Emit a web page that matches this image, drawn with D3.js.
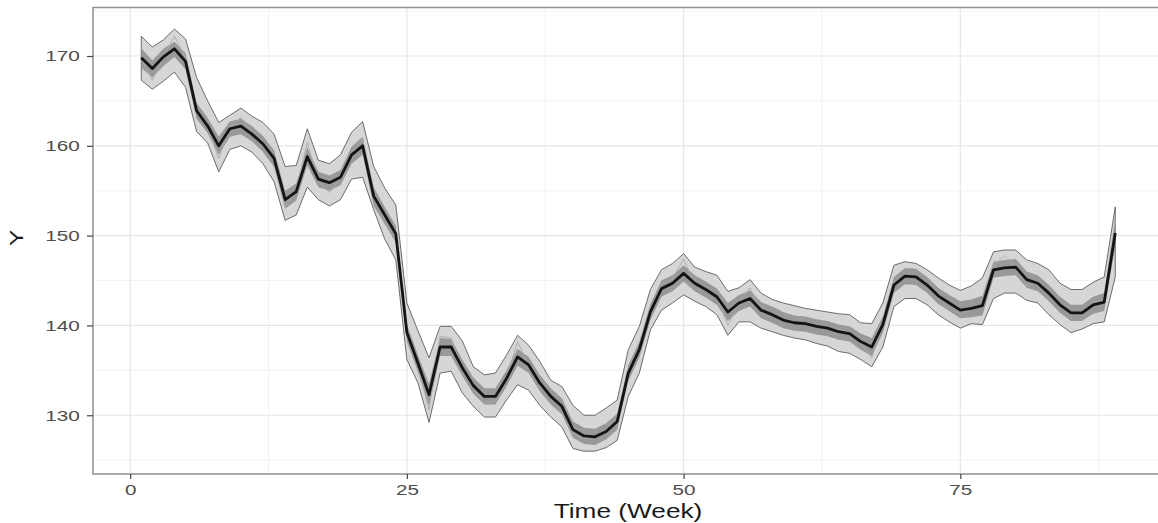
<!DOCTYPE html>
<html><head><meta charset="utf-8">
<script src="https://cdn.jsdelivr.net/npm/d3@7"></script>
<style>body{margin:0;background:#fff} svg{display:block}</style>
</head><body>
<svg id="c" width="1158" height="523"></svg>
<script>
const weeks = d3.range(1, 90);
const median = [169.8,168.6,169.9,170.8,169.4,163.9,162.2,160.0,161.9,162.2,
161.3,160.2,158.6,154.0,154.9,158.8,156.3,155.9,156.5,159.0,
160.0,154.4,152.3,150.2,139.2,135.8,132.3,137.6,137.6,135.3,
133.3,132.1,132.1,134.1,136.5,135.6,133.6,132.1,131.0,128.4,
127.7,127.6,128.2,129.3,134.7,137.3,141.5,144.1,144.7,145.8,
144.7,144.0,143.2,141.5,142.5,143.0,141.7,141.2,140.6,140.3,
140.2,139.9,139.7,139.3,139.1,138.2,137.6,140.1,144.5,145.5,
145.4,144.5,143.3,142.5,141.7,141.9,142.2,146.2,146.4,146.5,
145.1,144.7,143.6,142.3,141.4,141.4,142.3,142.6,150.3];
const outerUpper = [172.2,171.0,171.8,173.0,171.9,167.6,165.0,162.6,163.4,164.2,
163.3,162.6,161.3,157.7,157.8,161.9,158.4,158.0,159.0,161.5,
162.7,157.7,155.3,153.4,142.5,139.4,136.4,139.9,139.9,138.3,
135.4,134.5,134.7,136.7,138.9,137.8,136.0,133.9,133.2,131.1,
130.0,130.0,130.8,131.7,137.3,139.9,144.0,146.2,146.9,148.0,
146.5,146.0,145.6,143.8,144.2,145.1,143.6,142.9,142.5,142.2,
141.9,141.7,141.5,141.3,141.2,140.3,140.2,142.5,146.7,147.1,
146.9,146.2,145.3,144.5,143.9,144.4,145.3,148.2,148.4,148.4,
147.3,146.9,146.2,144.7,144.0,144.0,144.8,145.4,153.2];
const outerLower = [167.3,166.3,167.2,168.2,166.5,161.6,160.3,157.1,159.6,160.0,
159.3,158.0,156.0,151.7,152.3,155.4,154.0,153.3,154.0,156.3,
156.5,152.9,149.6,147.3,136.2,133.6,129.2,134.7,134.9,132.5,
131.0,129.8,129.8,131.7,133.4,132.8,131.1,129.8,128.7,126.3,
126.0,126.0,126.4,127.2,132.1,134.7,139.5,141.7,142.5,143.4,
142.7,142.1,141.2,138.9,140.4,140.4,139.7,139.3,138.9,138.6,
138.4,138.0,137.7,137.1,136.9,136.2,135.4,137.6,142.1,143.0,
143.0,142.3,141.2,140.4,139.7,140.2,140.1,143.0,143.6,143.6,
142.8,142.5,141.2,140.1,139.2,139.6,140.2,140.4,145.4];
const innerUpper = [170.9,169.5,170.8,171.6,170.3,164.8,163.1,161.0,162.7,163.0,
162.2,161.1,159.5,155.0,155.8,159.8,157.1,156.7,157.3,159.9,
161.0,155.4,153.2,151.1,140.1,136.7,133.5,138.6,138.5,136.2,
134.2,133.0,133.0,135.0,137.4,136.5,134.5,133.0,131.9,129.3,
128.6,128.5,129.1,130.2,135.6,138.2,142.4,145.0,145.6,146.7,
145.6,144.9,144.1,142.5,143.4,143.9,142.6,142.1,141.5,141.1,
141.0,140.7,140.5,140.1,139.9,139.1,138.6,141.0,145.4,146.4,
146.3,145.4,144.2,143.4,142.7,142.9,143.3,147.1,147.3,147.4,
146.0,145.6,144.5,143.2,142.3,142.3,143.2,143.6,151.8];
const innerLower = [168.7,167.6,168.9,169.9,168.5,163.0,161.4,159.0,161.0,161.3,
160.5,159.3,157.6,153.0,153.9,157.8,155.4,155.0,155.6,158.0,
159.0,153.3,151.3,149.2,138.2,134.8,131.0,136.6,136.6,134.4,
132.4,131.2,131.2,133.2,135.5,134.7,132.7,131.2,130.1,127.5,
126.8,126.7,127.3,128.4,133.8,136.4,140.6,143.2,143.8,144.9,
143.8,143.1,142.3,140.5,141.6,142.1,140.8,140.3,139.7,139.4,
139.3,139.0,138.8,138.4,138.2,137.3,136.6,139.2,143.6,144.6,
144.5,143.6,142.4,141.6,140.8,140.9,141.1,145.3,145.5,145.6,
144.2,143.8,142.7,141.4,140.5,140.5,141.3,141.6,148.8];
const observed = [169.8,167.3,169.8,172.2,169.8,163.8,162.0,158.6,162.0,163.2,
161.4,160.2,158.4,153.2,155.0,160.4,156.0,154.8,156.4,159.2,
160.8,154.2,152.0,150.0,139.0,135.5,130.6,138.8,138.6,135.0,
133.0,131.4,131.6,134.2,138.2,135.5,133.2,132.0,131.2,128.0,
127.4,127.6,128.4,129.0,134.8,137.2,141.2,144.6,145.2,147.4,
144.6,143.8,143.2,140.0,142.6,144.2,141.6,141.2,140.6,140.2,
140.2,139.8,139.6,139.6,139.2,138.0,136.4,140.2,144.8,145.6,
145.4,144.4,143.0,142.6,141.2,142.0,142.2,146.6,147.8,146.6,
144.4,144.8,143.6,142.4,141.2,141.4,142.6,142.8,151.8];
const xTicks = [0, 25, 50, 75];
const yTicks = [130, 140, 150, 160, 170];
const xMinor = [12.5, 37.5, 62.5, 87.5];
const yMinor = [125, 135, 145, 155, 165, 175];
const xTitle = "Time (Week)";
const yTitle = "Y";

const L = 93, R = 1158, T = 7.5, B = 474;
const x = d3.scaleLinear().domain([-3.36, 92.86]).range([L, R]);
const y = d3.scaleLinear().domain([123.46, 175.4]).range([B, T]);
const svg = d3.select('#c');

const grid = svg.append('g');
grid.selectAll('.xm').data(xMinor).join('line')
  .attr('x1', d => x(d)).attr('x2', d => x(d)).attr('y1', T).attr('y2', B)
  .attr('stroke', '#f2f2f2').attr('stroke-width', 1);
grid.selectAll('.ym').data(yMinor).join('line')
  .attr('y1', d => y(d)).attr('y2', d => y(d)).attr('x1', L).attr('x2', R)
  .attr('stroke', '#f2f2f2').attr('stroke-width', 1);
grid.selectAll('.xM').data(xTicks).join('line')
  .attr('x1', d => x(d)).attr('x2', d => x(d)).attr('y1', T).attr('y2', B)
  .attr('stroke', '#e6e6e6').attr('stroke-width', 1.2);
grid.selectAll('.yM').data(yTicks).join('line')
  .attr('y1', d => y(d)).attr('y2', d => y(d)).attr('x1', L).attr('x2', R)
  .attr('stroke', '#e6e6e6').attr('stroke-width', 1.2);

const idx = weeks.map((w, i) => i);
const outerArea = d3.area().x(i => x(weeks[i])).y0(i => y(outerLower[i])).y1(i => y(outerUpper[i]));
const innerArea = d3.area().x(i => x(weeks[i])).y0(i => y(innerLower[i])).y1(i => y(innerUpper[i]));
svg.append('path').datum(idx).attr('d', outerArea)
  .attr('fill', '#d6d6d6').attr('stroke', '#5e5e5e').attr('stroke-width', 0.9);
svg.append('path').datum(idx).attr('d', innerArea)
  .attr('fill', '#8e8e8e').attr('fill-opacity', 0.85);
svg.append('path').datum(idx)
  .attr('d', d3.line().x(i => x(weeks[i])).y(i => y(observed[i])))
  .attr('fill', 'none').attr('stroke', '#aaaaaa').attr('stroke-width', 0.9);
svg.append('path').datum(idx)
  .attr('d', d3.line().x(i => x(weeks[i])).y(i => y(median[i])))
  .attr('fill', 'none').attr('stroke', '#141414').attr('stroke-width', 2.8)
  .attr('stroke-linejoin', 'round');

svg.append('rect').attr('x', L).attr('y', T).attr('width', R - L + 5).attr('height', B - T)
  .attr('fill', 'none').attr('stroke', '#8f8f8f').attr('stroke-width', 1.5);

const font = "'Liberation Sans', Arial, Helvetica, sans-serif";
const ya = svg.append('g').attr('transform', `translate(${L},0)`)
  .call(d3.axisLeft(y).tickValues(yTicks).tickSize(6).tickFormat(d3.format('d')));
ya.select('.domain').remove();
ya.selectAll('.tick line').attr('stroke', '#444').attr('stroke-width', 1.2);
ya.selectAll('.tick text').attr('x', -9.6).attr('transform', 'scale(1.38,1)')
  .attr('font-size', 15).attr('font-family', font).attr('fill', '#4d4d4d');

const xa = svg.append('g').attr('transform', `translate(0,${B})`)
  .call(d3.axisBottom(x).tickValues(xTicks).tickSize(5).tickPadding(5.5).tickFormat(d3.format('d')));
xa.select('.domain').remove();
xa.selectAll('.tick line').attr('stroke', '#444').attr('stroke-width', 1.2);
xa.selectAll('.tick text').attr('transform', 'scale(1.38,1)')
  .attr('font-size', 15).attr('font-family', font).attr('fill', '#4d4d4d');

svg.append('text').text(xTitle)
  .attr('transform', 'translate(628,518) scale(1.28,1)')
  .attr('text-anchor', 'middle').attr('font-size', 20.5).attr('font-family', font).attr('fill', '#1a1a1a');
svg.append('text').text(yTitle)
  .attr('transform', 'translate(23,238) rotate(-90) scale(1.28,1)')
  .attr('text-anchor', 'middle').attr('font-size', 19).attr('font-family', font).attr('fill', '#1a1a1a');
</script>
</body></html>
